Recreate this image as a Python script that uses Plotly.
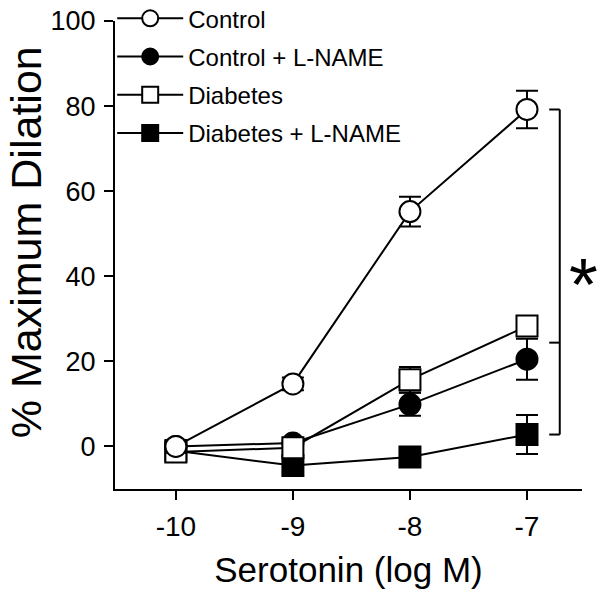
import plotly.graph_objects as go

# ---- data ----
conc = [-10, -9, -8, -7]
conc_labels = ["-10", "-9", "-8", "-7"]
tick_vals_y = [0, 20, 40, 60, 80, 100]
tick_text_y = ["0", "20", "40", "60", "80", "100"]

control = [0.0, 14.7, 55.2, 79.2]
control_err = [1.5, 1.5, 3.5, 4.4]

control_lname = [0.0, 0.8, 9.9, 20.5]
control_lname_err = [1.0, 1.0, 2.7, 4.8]

diabetes = [-1.3, -0.3, 15.7, 28.3]
diabetes_err = [1.0, 1.0, 3.0, 2.0]

diabetes_lname = [-1.0, -4.5, -2.5, 2.8]
diabetes_lname_err = [1.0, 1.5, 1.5, 4.6]

FONT = "Liberation Sans, Arial, sans-serif"
MS = 21

def trace(name, y, err, symbol, fill, rank):
    return go.Scatter(
        x=conc, y=y, name=name, mode="lines+markers",
        line=dict(color="black", width=2),
        marker=dict(symbol=symbol, size=MS, color=fill,
                    line=dict(color="black", width=2)),
        error_y=dict(type="data", array=err, color="black",
                     thickness=2, width=11),
        legendrank=rank, legendgroup=name,
    )

fig = go.Figure()
# draw order (back to front)
fig.add_trace(trace("Diabetes + L-NAME", diabetes_lname, diabetes_lname_err, "square", "black", 4))
fig.add_trace(trace("Control + L-NAME", control_lname, control_lname_err, "circle", "black", 2))
fig.add_trace(trace("Diabetes", diabetes, diabetes_err, "square", "white", 3))
fig.add_trace(trace("Control", control, control_err, "circle", "white", 1))

# significance bracket, derived from last-point values
top = control[-1]
bot = diabetes_lname[-1]
mid = (diabetes[-1] + control_lname[-1]) / 2
bx = -6.72
bx0 = -6.81
line = dict(color="black", width=2)
fig.add_shape(type="line", x0=bx, x1=bx, y0=bot, y1=top, line=line)
for yy in (top, mid, bot):
    fig.add_shape(type="line", x0=bx0, x1=bx, y0=yy, y1=yy, line=line)
fig.add_annotation(x=1.0, xref="paper", y=(top + bot) / 2, text="*", showarrow=False,
                   font=dict(family=FONT, size=74, color="black"),
                   xanchor="center", yanchor="middle", xshift=1, yshift=-12)

# y-axis title as rotated text
fig.add_annotation(x=-0.19, y=0.528, xref="paper", yref="paper",
                   text="% Maximum Dilation", textangle=-90, showarrow=False,
                   font=dict(family=FONT, size=43, color="black"),
                   xanchor="center", yanchor="middle")

fig.update_layout(
    width=600, height=598,
    margin=dict(l=115, r=18, t=21, b=109, autoexpand=False),
    paper_bgcolor="white", plot_bgcolor="white",
    font=dict(family=FONT, color="black", size=27),
    showlegend=True,
    legend=dict(x=-0.006, y=1.053, xanchor="left", yanchor="top",
                font=dict(size=24, family=FONT, color="black"),
                tracegroupgap=4, bgcolor="rgba(0,0,0,0)",
                itemwidth=66),
    xaxis=dict(range=[-10.52, -6.53], tickvals=conc, ticktext=conc_labels,
               showline=True, linecolor="black", linewidth=2,
               ticks="outside", ticklen=9, tickwidth=2, tickcolor="black",
               showgrid=False, zeroline=False, automargin=False,
               tickfont=dict(size=28), ticklabelstandoff=2,
               title=dict(text="Serotonin (log M)", font=dict(size=35), standoff=17)),
    yaxis=dict(range=[-10, 100], tickvals=tick_vals_y, ticktext=tick_text_y,
               showline=True, linecolor="black", linewidth=2,
               ticks="outside", ticklen=9, tickwidth=2, tickcolor="black",
               showgrid=False, zeroline=False, automargin=False,
               tickfont=dict(size=27), ticklabelstandoff=3,
               ticklabeloverflow="allow"),
)

# remove the default 8px page margin so the figure fills the window
fig.write_html("out.html", config={"displayModeBar": False},
               post_script="document.body.style.margin='0px';")
